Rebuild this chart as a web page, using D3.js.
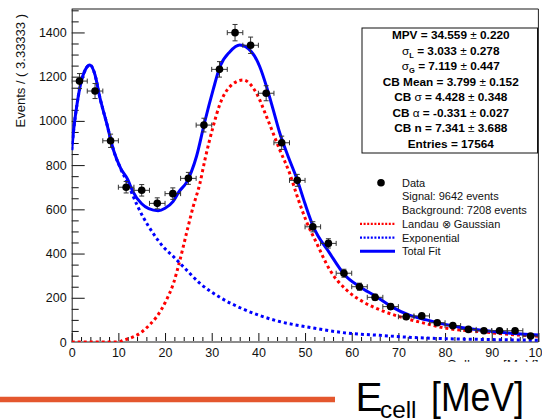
<!DOCTYPE html>
<html>
<head>
<meta charset="utf-8">
<script src="https://cdn.jsdelivr.net/npm/d3@7"></script>
<style>
  html, body { margin: 0; padding: 0; background: #fff; }
  svg { display: block; font-family: "Liberation Sans", Arial, Helvetica, sans-serif; }
</style>
</head>
<body>
<svg id="chart" width="542" height="419"></svg>
<script>
// Binned cell-energy spectrum (bin width 3.33333 MeV)
const binCenters = [1.667, 5, 8.333, 11.667, 15, 18.333, 21.667, 25, 28.333, 31.667,
                    35, 38.333, 41.667, 45, 48.333, 51.667, 55, 58.333, 61.667, 65,
                    68.333, 71.667, 75, 78.333, 81.667, 85, 88.333, 91.667, 95, 98.333];
const counts = [1180, 1135, 910, 700, 686, 627, 671, 740, 981, 1233,
                1399, 1342, 1125, 901, 731, 521, 446, 311, 250, 202,
                160, 114, 118, 87, 74, 57, 51, 51, 51, 27];
const countErrors = [34, 34, 30, 26, 26, 25, 26, 27, 31, 35,
                     37, 37, 34, 30, 27, 23, 21, 18, 16, 14,
                     13, 11, 11, 9, 9, 8, 7, 7, 7, 5];
const binHalfWidth = 1.66667;

// Total fit curve samples
const totalX = [0, 0.5, 1, 2, 3, 3.9, 5, 6, 7.5, 9,
                10.5, 12, 13, 15, 16.5, 18.5, 20, 21.7, 23, 24.6,
                26.75, 28.5, 30.3, 31.75, 33.9, 36, 38.5, 40.3, 41.75, 43.2,
                44.6, 46.4, 48.3, 50, 51.7, 55.3, 58.5, 61.7, 65.3, 68.5,
                72.5, 76, 80.3, 87.4, 93, 100];
const totalY = [868, 975, 1055, 1175, 1235, 1253, 1208, 1109, 989, 865,
                785, 735, 685, 625, 603, 594, 605, 635, 680, 722,
                840, 995, 1140, 1245, 1313, 1343, 1313, 1245, 1155, 1049,
                944, 838, 735, 625, 525, 401, 303, 250, 205, 160,
                120, 100, 78, 54, 42, 32];

// Landau (x) Gaussian component samples
const sigX = [0, 9, 10.3, 11, 12.5, 14.6, 16.8, 18.2, 20.3, 21.8,
              23.2, 24.6, 26, 27.5, 28.5, 30.3, 31.75, 33.9, 36.7, 39.6,
              41.75, 44.6, 46.7, 48.3, 50.3, 52.5, 55.3, 58.9, 62.4, 66.7,
              71, 75, 80.3, 87.4, 93, 100];
const sigY = [0, 0, 2, 8, 17, 39, 80, 114, 190, 265,
              371, 492, 610, 720, 820, 974, 1075, 1155, 1185, 1125,
              1019, 868, 763, 660, 545, 446, 326, 235, 182, 140,
              110, 88, 62, 47, 36, 26];

// Background component samples
const bkgX = [0, 0.5, 1, 2, 3, 3.9, 5, 6, 7.5, 9,
              10.5, 12, 13.2, 15.3, 17.5, 19.6, 21.8, 23.9, 27.5, 31.9,
              36.5, 43.9, 51.3, 58.7, 66, 73.5, 80, 90, 100];
const bkgY = [868, 975, 1055, 1175, 1235, 1253, 1208, 1109, 989, 865,
              783, 718, 657, 565, 490, 431, 386, 341, 265, 200,
              151, 96, 65, 41, 30, 20, 15, 11, 8];

// Axis ticks
const xMajorTicks = [0, 10, 20, 30, 40, 50, 60, 70, 80, 90, 100];
const xMinorTicks = [2, 4, 6, 8, 12, 14, 16, 18, 22, 24, 26, 28, 32, 34, 36, 38, 42, 44, 46, 48,
                     52, 54, 56, 58, 62, 64, 66, 68, 72, 74, 76, 78, 82, 84, 86, 88, 92, 94, 96, 98];
const yMajorTicks = [0, 200, 400, 600, 800, 1000, 1200, 1400];
const yMinorTicks = [50, 100, 150, 250, 300, 350, 450, 500, 550, 650, 700, 750, 850, 900, 950,
                     1050, 1100, 1150, 1250, 1300, 1350, 1450, 1500];

// Fit parameter box: each line is a list of [text, kind]
const statLines = [
  [["MPV = 34.559 ", "b"], ["\u00B1 ", "n"], ["0.220", "b"]],
  [["\u03C3", "n"], ["L", "sub"], [" = 3.033 ", "b"], ["\u00B1 ", "n"], ["0.278", "b"]],
  [["\u03C3", "n"], ["G", "sub"], [" = 7.119 ", "b"], ["\u00B1 ", "n"], ["0.447", "b"]],
  [["CB Mean = 3.799 ", "b"], ["\u00B1 ", "n"], ["0.152", "b"]],
  [["CB ", "b"], ["\u03C3", "n"], [" = 4.428 ", "b"], ["\u00B1 ", "n"], ["0.348", "b"]],
  [["CB ", "b"], ["\u03B1", "n"], [" = -0.331 ", "b"], ["\u00B1 ", "n"], ["0.027", "b"]],
  [["CB n = 7.341 ", "b"], ["\u00B1 ", "n"], ["3.688", "b"]],
  [["Entries = 17564", "b"]]
];

const legendLabels = ["Data", "Signal: 9642 events", "Background: 7208 events",
                      "Landau \u2297 Gaussian", "Exponential", "Total Fit"];
const legendKinds = ["marker", "none", "none", "sig", "bkg", "total"];

const yTitle = "Events / ( 3.33333 )";
const xTitle = "Cell sum [MeV]";

const svg = d3.select("#chart");

const frame = { left: 71.7, right: 538.4, top: 9, bottom: 342 };
const x = d3.scaleLinear().domain([0, 100]).range([frame.left, frame.right]);
const y = d3.scaleLinear().domain([0, 1506]).range([frame.bottom, frame.top]);

svg.append("defs").append("clipPath").attr("id", "plotClip")
  .append("rect")
  .attr("x", frame.left).attr("y", frame.top)
  .attr("width", frame.right - frame.left).attr("height", frame.bottom - frame.top);

// clip for the partially hidden axis title
svg.select("defs").append("clipPath").attr("id", "titleClip")
  .append("rect").attr("x", 0).attr("y", 0).attr("width", 542).attr("height", 361.8);

// Axes
const font = "'Liberation Sans', Arial, Helvetica, sans-serif";

const gxMinor = svg.append("g").attr("transform", `translate(0,${frame.bottom})`)
  .call(d3.axisBottom(x).tickValues(xMinorTicks).tickSize(-5).tickFormat(""));
const gx = svg.append("g").attr("transform", `translate(0,${frame.bottom})`)
  .call(d3.axisBottom(x).tickValues(xMajorTicks).tickSize(-9).tickPadding(6.5).tickFormat(d3.format("d")));
const gyMinor = svg.append("g").attr("transform", `translate(${frame.left},0)`)
  .call(d3.axisLeft(y).tickValues(yMinorTicks).tickSize(-7).tickFormat(""));
const gy = svg.append("g").attr("transform", `translate(${frame.left},0)`)
  .call(d3.axisLeft(y).tickValues(yMajorTicks).tickSize(-13).tickPadding(5).tickFormat(d3.format("d")));

[gxMinor, gx, gyMinor, gy].forEach(g => {
  g.select(".domain").remove();
  g.selectAll(".tick line").attr("stroke", "#111").attr("stroke-width", 1);
  g.selectAll("text").attr("font-family", font).attr("font-size", 12.5).attr("fill", "#111");
});

// Frame
svg.append("line").attr("x1", frame.left).attr("x2", frame.right)
  .attr("y1", frame.top).attr("y2", frame.top).attr("stroke", "#8c8c8c").attr("stroke-width", 2);
svg.append("line").attr("x1", frame.left).attr("x2", frame.right)
  .attr("y1", frame.bottom).attr("y2", frame.bottom).attr("stroke", "#8c8c8c").attr("stroke-width", 2);
svg.append("line").attr("x1", frame.left + 0.5).attr("x2", frame.left + 0.5)
  .attr("y1", frame.top).attr("y2", frame.bottom).attr("stroke", "#222").attr("stroke-width", 1);
svg.append("line").attr("x1", frame.right).attr("x2", frame.right)
  .attr("y1", frame.top).attr("y2", frame.bottom).attr("stroke", "#222").attr("stroke-width", 1);

// Axis titles
svg.append("text")
  .attr("transform", `translate(24.5,14) rotate(-90)`)
  .attr("text-anchor", "end")
  .attr("font-family", font).attr("font-size", 13).attr("fill", "#111")
  .text(yTitle);

svg.append("text")
  .attr("clip-path", "url(#titleClip)")
  .attr("x", frame.right).attr("y", 368.8)
  .attr("text-anchor", "end")
  .attr("font-family", font).attr("font-size", 13.5).attr("fill", "#111")
  .text(xTitle);

// Curves
const plot = svg.append("g").attr("clip-path", "url(#plotClip)");
const lineGen = d3.line().x(d => x(d[0])).y(d => y(d[1])).curve(d3.curveMonotoneX);

plot.append("path").datum(d3.zip(sigX, sigY))
  .attr("d", lineGen).attr("fill", "none")
  .attr("stroke", "#ff0000").attr("stroke-width", 3).attr("stroke-dasharray", "3,3");
plot.append("path").datum(d3.zip(bkgX, bkgY))
  .attr("d", lineGen).attr("fill", "none")
  .attr("stroke", "#0000ff").attr("stroke-width", 3).attr("stroke-dasharray", "3,3");
plot.append("path").datum(d3.zip(totalX, totalY))
  .attr("d", lineGen).attr("fill", "none")
  .attr("stroke", "#0000ff").attr("stroke-width", 3);

// Data points with error bars
const pts = d3.range(binCenters.length).map(i => ({ x: binCenters[i], n: counts[i], e: countErrors[i] }));
const pg = plot.append("g").attr("stroke", "#333").attr("stroke-width", 1);
const cap = 2.5;
pts.forEach(p => {
  const cx = x(p.x), cy = y(p.n);
  const xl = x(p.x - binHalfWidth), xr = x(p.x + binHalfWidth);
  const yt = y(p.n + p.e), yb = y(p.n - p.e);
  pg.append("line").attr("x1", xl).attr("x2", xr).attr("y1", cy).attr("y2", cy);
  pg.append("line").attr("x1", cx).attr("x2", cx).attr("y1", yt).attr("y2", yb);
  pg.append("line").attr("x1", xl).attr("x2", xl).attr("y1", cy - cap).attr("y2", cy + cap);
  pg.append("line").attr("x1", xr).attr("x2", xr).attr("y1", cy - cap).attr("y2", cy + cap);
  pg.append("line").attr("x1", cx - cap).attr("x2", cx + cap).attr("y1", yt).attr("y2", yt);
  pg.append("line").attr("x1", cx - cap).attr("x2", cx + cap).attr("y1", yb).attr("y2", yb);
});
plot.append("g").selectAll("circle").data(pts).join("circle")
  .attr("cx", d => x(d.x)).attr("cy", d => y(d.n)).attr("r", 3.8).attr("fill", "#000");

// Fit parameter box
const box = { x: 362, y: 28, w: 175.5, h: 125 };
svg.append("rect").attr("x", box.x).attr("y", box.y).attr("width", box.w).attr("height", box.h)
  .attr("fill", "#fff").attr("stroke", "#111").attr("stroke-width", 1);
statLines.forEach((parts, i) => {
  const t = svg.append("text")
    .attr("x", box.x + box.w / 2 + 1).attr("y", 35 + i * 15.5)
    .attr("dy", "0.36em")
    .attr("text-anchor", "middle")
    .attr("font-family", font).attr("font-size", 11.8).attr("fill", "#000");
  parts.forEach(([s, kind]) => {
    const ts = t.append("tspan").text(s);
    if (kind === "b") ts.attr("font-weight", "bold");
    if (kind === "n") ts.attr("font-weight", "normal");
    if (kind === "sub") ts.attr("font-size", 7.5).attr("font-weight", "bold").attr("dy", 3);
    if (kind === "b" && parts.some(q => q[1] === "sub") && s.startsWith(" =")) ts.attr("dy", -3);
  });
});

// Legend
const leg = { markX: 381, textX: 402, y0: 182.8, dy: 13.7 };
legendLabels.forEach((label, i) => {
  const yy = leg.y0 + i * leg.dy;
  const kind = legendKinds[i];
  if (kind === "marker") {
    svg.append("circle").attr("cx", leg.markX).attr("cy", yy).attr("r", 3.8).attr("fill", "#000");
  } else if (kind !== "none") {
    const ln = svg.append("line").attr("x1", 360).attr("x2", 395).attr("y1", yy).attr("y2", yy)
      .attr("stroke", kind === "sig" ? "#ff0000" : "#0000ff");
    if (kind === "total") ln.attr("stroke-width", 3);
    else ln.attr("stroke-width", 2.2).attr("stroke-dasharray", "2,1.6");
  }
  svg.append("text").attr("x", leg.textX).attr("y", yy).attr("dy", "0.36em")
    .attr("font-family", font).attr("font-size", 11).attr("fill", "#111")
    .text(label);
});

// Slide caption: accent rule and big axis label
svg.append("line").attr("x1", 0).attr("x2", 335).attr("y1", 399.5).attr("y2", 399.5)
  .attr("stroke", "#e4572e").attr("stroke-width", 5.5);
svg.append("text").attr("x", 355.5).attr("y", 410.8)
  .attr("font-family", font).attr("font-size", 40.5).attr("fill", "#000")
  .text("E");
svg.append("text").attr("x", 380).attr("y", 417.8)
  .attr("font-family", font).attr("font-size", 24).attr("fill", "#000")
  .attr("textLength", 36.5).attr("lengthAdjust", "spacingAndGlyphs")
  .text("cell");
svg.append("text").attr("x", 431).attr("y", 410.8)
  .attr("font-family", font).attr("font-size", 40.5).attr("fill", "#000")
  .attr("textLength", 93).attr("lengthAdjust", "spacingAndGlyphs")
  .text("[MeV]");
</script>
</body>
</html>
